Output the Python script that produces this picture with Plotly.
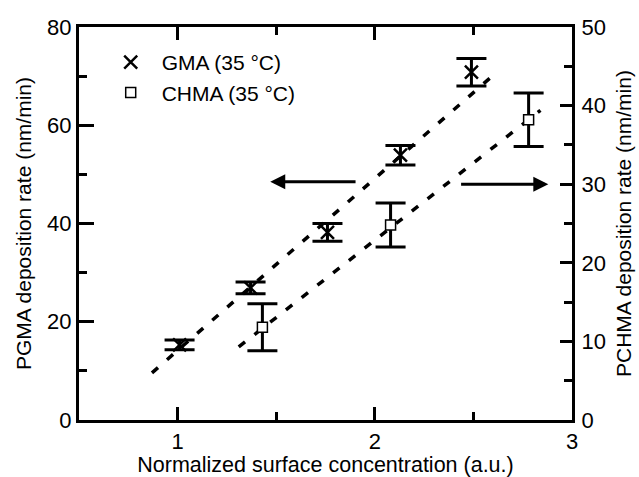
import plotly.graph_objects as go

# ---- data ----
gma_x = [1.01, 1.37, 1.76, 2.13, 2.49]
gma_y = [15.3, 26.9, 38.2, 53.9, 70.8]
gma_err = [1.0, 1.2, 1.8, 2.0, 2.8]

chma_x = [1.43, 2.08, 2.78]
chma_y = [11.8, 24.8, 38.2]
chma_err = [3.0, 2.8, 3.4]

gma_fit_x = [0.87, 2.61]
gma_fit_y = [9.6, 70.5]
chma_fit_x = [1.31, 2.84]
chma_fit_y = [9.3, 39.4]

# arrows: [head, tail] in data units
left_arrow_x = [1.47, 1.91]
left_arrow_y = 48.5
right_arrow_x = [2.88, 2.43]
right_arrow_y = 30.0

FONT = "Liberation Sans, Arial, sans-serif"

fig = go.Figure()

fig.add_trace(go.Scatter(
    x=gma_fit_x, y=gma_fit_y, mode="lines", showlegend=False,
    line=dict(color="black", width=3.5, dash="8px,12px"), hoverinfo="skip"))
fig.add_trace(go.Scatter(
    x=chma_fit_x, y=chma_fit_y, mode="lines", showlegend=False, yaxis="y2",
    line=dict(color="black", width=3.5, dash="8px,12px"), hoverinfo="skip"))

fig.add_trace(go.Scatter(
    x=gma_x, y=gma_y, mode="markers", name="GMA (35 °C)",
    marker=dict(symbol="x-thin", size=13, color="black",
                line=dict(color="black", width=2.5)),
    error_y=dict(type="data", array=gma_err, color="black", thickness=3, width=15)))

fig.add_trace(go.Scatter(
    x=chma_x, y=chma_y, mode="markers", name="CHMA (35 °C)", yaxis="y2",
    marker=dict(symbol="square", size=10, color="white",
                line=dict(color="black", width=1.5)),
    error_y=dict(type="data", array=chma_err, color="black", thickness=3, width=15)))

fig.add_annotation(x=left_arrow_x[0], y=left_arrow_y, ax=left_arrow_x[1], ay=left_arrow_y,
                   xref="x", yref="y", axref="x", ayref="y", text="", showarrow=True,
                   arrowhead=2, arrowsize=1, arrowwidth=3, arrowcolor="black")
fig.add_annotation(x=right_arrow_x[0], y=right_arrow_y, ax=right_arrow_x[1], ay=right_arrow_y,
                   xref="x", yref="y2", axref="x", ayref="y2", text="", showarrow=True,
                   arrowhead=2, arrowsize=1, arrowwidth=3, arrowcolor="black")

axis_common = dict(showgrid=False, zeroline=False, showline=True, linecolor="black",
                   linewidth=3, ticks="inside", tickcolor="black", tickwidth=3,
                   automargin=False,
                   tickfont=dict(family=FONT, size=22, color="black"))

fig.update_layout(
    width=639, height=477,
    margin=dict(l=79, r=67, t=27, b=57),
    paper_bgcolor="white", plot_bgcolor="white",
    font=dict(family=FONT, color="black"),
    showlegend=True,
    legend=dict(x=0.042, y=0.962, xanchor="left", yanchor="top",
                bgcolor="rgba(0,0,0,0)", font=dict(family=FONT, size=21),
                itemwidth=52, tracegroupgap=0),
    xaxis=dict(range=[0.5, 3], tick0=0, dtick=1, ticklen=13, mirror="ticks",
               minor=dict(dtick=0.5, ticks="inside", ticklen=8, tickwidth=3, tickcolor="black"),
               title=dict(text="Normalized surface concentration (a.u.)",
                          font=dict(family=FONT, size=21.5), standoff=8),
               **axis_common),
    yaxis=dict(range=[0, 80], tick0=0, dtick=20, ticklen=15,
               ticklabelstandoff=0,
               minor=dict(dtick=10, ticks="inside", ticklen=8, tickwidth=3, tickcolor="black"),
               title=dict(text="PGMA deposition rate (nm/min)",
                          font=dict(family=FONT, size=21), standoff=10),
               **axis_common),
    yaxis2=dict(range=[0, 50], tick0=0, dtick=10, ticklen=12, overlaying="y", side="right",
                ticklabelstandoff=2,
                minor=dict(dtick=5, ticks="inside", ticklen=8, tickwidth=3, tickcolor="black"),
                title=dict(text="PCHMA deposition rate (nm/min)",
                           font=dict(family=FONT, size=21), standoff=12),
                **axis_common),
)

fig.write_html("out.html", config={"displayModeBar": False},
               post_script="document.body.style.margin='0';")
